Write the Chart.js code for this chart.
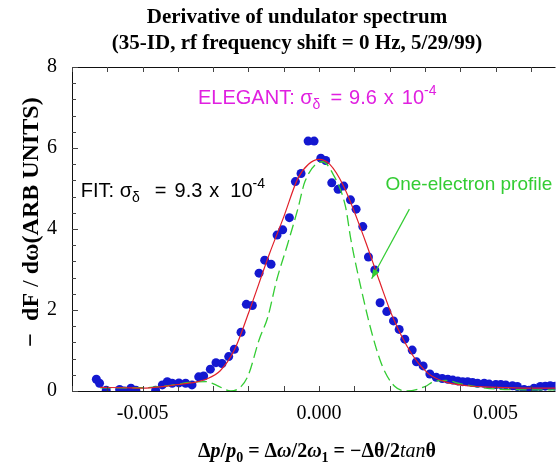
<!DOCTYPE html>
<html>
<head>
<meta charset="utf-8">
<script src="https://cdn.jsdelivr.net/npm/chart.js@4/dist/chart.umd.min.js"></script>
<style>
  html, body { margin: 0; padding: 0; background: #fff; overflow: hidden; }
</style>
</head>
<body>
<canvas id="chart" width="560" height="463"></canvas>
<script>
// measured points (blue)
const dataX = [-0.00631, -0.00622, -0.00603, -0.00565, -0.00551, -0.00533, -0.00519, -0.00463, -0.00444, -0.00430,
  -0.00416, -0.00397, -0.00378, -0.00360, -0.00341, -0.00327, -0.00308, -0.00292, -0.00275, -0.00256,
  -0.00240, -0.00221, -0.00206, -0.00189, -0.00170, -0.00154, -0.00136, -0.00119, -0.00103, -0.00084,
  -0.00067, -0.00051, -0.00031, -0.00014, 0.00005, 0.00019, 0.00036, 0.00054, 0.00070, 0.00089,
  0.00105, 0.00124, 0.00140, 0.00158, 0.00173, 0.00192, 0.00211, 0.00227, 0.00243, 0.00264,
  0.00276, 0.00295, 0.00314, 0.00332, 0.00349, 0.00365, 0.00379, 0.00393, 0.00407, 0.00421,
  0.00435, 0.00449, 0.00468, 0.00482, 0.00501, 0.00515, 0.00529, 0.00548, 0.00562, 0.00581,
  0.00595, 0.00609, 0.00627, 0.00641, 0.00655, 0.00669];
const dataY = [0.29, 0.19, 0.02, 0.04, 0.00, 0.07, 0.02, 0.02, 0.15, 0.23,
  0.19, 0.20, 0.19, 0.15, 0.35, 0.37, 0.54, 0.70, 0.68, 0.85,
  1.03, 1.45, 2.14, 2.11, 2.91, 3.23, 3.13, 3.85, 3.98, 4.28,
  5.17, 5.37, 6.17, 6.17, 5.75, 5.69, 5.14, 4.98, 5.06, 4.72,
  4.49, 4.06, 3.31, 2.99, 2.18, 1.96, 1.73, 1.52, 1.28, 1.01,
  0.72, 0.62, 0.42, 0.34, 0.31, 0.29, 0.27, 0.25, 0.23, 0.23,
  0.21, 0.19, 0.19, 0.17, 0.16, 0.16, 0.15, 0.13, 0.11, 0.04,
  0.02, 0.07, 0.11, 0.12, 0.13, 0.12];

// fit curve (red)
const fitX = [-0.0062, -0.0055, -0.0050, -0.0045, -0.0040, -0.0035, -0.0032, -0.0028, -0.0024, -0.0020,
  -0.0014, -0.0010, -0.0006, -0.0003, 0.0000, 0.0003, 0.0007, 0.0013, 0.0017, 0.0021,
  0.0026, 0.0031, 0.0036, 0.0042, 0.0050, 0.0060, 0.0067];
const fitY = [0.09, 0.08, 0.07, 0.10, 0.16, 0.22, 0.29, 0.50, 1.01, 1.92,
  3.40, 4.30, 5.25, 5.60, 5.72, 5.60, 5.05, 3.73, 2.74, 1.80,
  0.95, 0.43, 0.22, 0.13, 0.09, 0.07, 0.07];

// one-electron profile (green dashed)
const oneX = [-0.0062, -0.0050, -0.0042, -0.0036, -0.0032, -0.0029, -0.0025, -0.0022, -0.0020, -0.0017,
  -0.00145, -0.0012, -0.0009, -0.0006, -0.0004, 0.0001, 0.0004, 0.00075, 0.0009, 0.0012,
  0.0015, 0.0018, 0.00215, 0.0025, 0.0030, 0.0033, 0.0036, 0.0040, 0.0045, 0.0050,
  0.0060, 0.0067];
const oneY = [0.08, 0.08, 0.14, 0.22, 0.23, 0.14, 0.00, 0.12, 0.40, 1.26,
  1.83, 2.74, 3.60, 4.50, 5.17, 5.66, 5.35, 4.55, 3.75, 2.50,
  1.42, 0.60, 0.11, 0.00, 0.11, 0.25, 0.26, 0.18, 0.10, 0.05,
  0.03, 0.03];

const xTickValues = [-0.005, 0, 0.005];
const xTickLabels = ['-0.005', '0.000', '0.005'];
const yTickValues = [0, 2, 4, 6, 8];
const yTickLabels = ['0', '2', '4', '6', '8'];

const toPts = (xs, ys) => xs.map((v, i) => ({ x: v, y: ys[i] }));

const SERIF = '"Liberation Serif", "Times New Roman", serif';
const SANS = '"Liberation Sans", Arial, sans-serif';

// text made of runs; r.g = extra gap in px before the run
function runsWidth(ctx, runs) {
  let w = 0;
  for (const r of runs) { ctx.font = r.f; w += (r.g || 0) + ctx.measureText(r.t).width; }
  return w;
}
function drawRuns(ctx, x, y, runs, color, baseline) {
  ctx.fillStyle = color;
  ctx.textAlign = 'left';
  ctx.textBaseline = baseline || 'alphabetic';
  for (const r of runs) {
    ctx.font = r.f;
    x += r.g || 0;
    ctx.fillText(r.t, x, y + (r.dy || 0));
    x += ctx.measureText(r.t).width;
  }
}

const framePlugin = {
  id: 'frame',
  afterDatasetsDraw(chart) {
    const { ctx, chartArea: a, scales: { x, y } } = chart;
    ctx.save();

    // box: left, bottom, top (right edge falls outside the picture)
    ctx.strokeStyle = '#111';
    ctx.lineWidth = 1;
    ctx.beginPath();
    ctx.moveTo(a.right, a.top + 0.5);
    ctx.lineTo(a.left + 0.5, a.top + 0.5);
    ctx.lineTo(a.left + 0.5, a.bottom + 0.5);
    ctx.lineTo(a.right, a.bottom + 0.5);
    ctx.stroke();

    // inward ticks
    ctx.strokeStyle = '#444';
    ctx.beginPath();
    for (let v = -0.007; v <= 0.0067; v += 0.001) {
      const px = Math.round(x.getPixelForValue(v)) + 0.5;
      ctx.moveTo(px, a.bottom); ctx.lineTo(px, a.bottom - 5);
      ctx.moveTo(px, a.top); ctx.lineTo(px, a.top + 5);
    }
    for (let i = 0; i <= 20; i++) {
      const py = Math.round(y.getPixelForValue(i * 0.4)) + 0.5;
      const len = i % 5 === 0 ? 6 : 4;
      ctx.moveTo(a.left, py); ctx.lineTo(a.left + len, py);
    }
    ctx.stroke();

    // tick labels
    ctx.fillStyle = '#000';
    ctx.font = '20px ' + SERIF;
    ctx.textAlign = 'center';
    ctx.textBaseline = 'middle';
    xTickValues.forEach((v, i) => ctx.fillText(xTickLabels[i], x.getPixelForValue(v), 414));
    ctx.textAlign = 'right';
    yTickValues.forEach((v, i) => ctx.fillText(yTickLabels[i], 57, y.getPixelForValue(v)));

    // title
    ctx.textAlign = 'center';
    ctx.font = 'bold 21px ' + SERIF;
    ctx.fillText('Derivative of undulator spectrum', 297, 18);
    ctx.fillText('(35-ID, rf frequency shift = 0 Hz, 5/29/99)', 297, 44);

    // y axis title
    ctx.save();
    ctx.translate(32, 222);
    ctx.rotate(-Math.PI / 2);
    const YB = 'bold 24px ' + SERIF, YR = '24px ' + SERIF;
    const yRuns = [
      { t: '\u2212  dF ', f: YB }, { t: '/', f: YR }, { t: ' d\u03C9(ARB UNITS)', f: YB }
    ];
    drawRuns(ctx, -runsWidth(ctx, yRuns) / 2, 0, yRuns, '#000', 'middle');
    ctx.restore();

    // x axis title
    const B = 'bold 20px ' + SERIF, BI = 'italic bold 20px ' + SERIF, I = 'italic 20px ' + SERIF,
      S = 'bold 14px ' + SERIF;
    const xRuns = [
      { t: '\u0394', f: B }, { t: 'p', f: BI }, { t: '/', f: B }, { t: 'p', f: BI }, { t: '0', f: S, dy: 5 },
      { t: ' = \u0394', f: B }, { t: '\u03C9', f: BI }, { t: '/2', f: B }, { t: '\u03C9', f: BI }, { t: '1', f: S, dy: 5 },
      { t: ' = \u2212\u0394\u03B8/2', f: B }, { t: 'tan', f: I }, { t: '\u03B8', f: B }
    ];
    drawRuns(ctx, 317 - runsWidth(ctx, xRuns) / 2, 457, xRuns, '#000');

    // annotations
    const F = '20px ' + SANS, FS = '14px ' + SANS;
    drawRuns(ctx, x.getPixelForValue(-0.00343), y.getPixelForValue(7.09), [
      { t: 'ELEGANT: \u03C3', f: F }, { t: '\u03B4', f: FS, dy: 5 },
      { t: '=', f: F, g: 10 }, { t: '9.6', f: F, g: 7 }, { t: 'x', f: F, g: 7 }, { t: '10', f: F, g: 8 },
      { t: '-4', f: FS, dy: -9 }
    ], '#e020e0');
    drawRuns(ctx, x.getPixelForValue(-0.00675), y.getPixelForValue(4.79), [
      { t: 'FIT: \u03C3', f: F }, { t: '\u03B4', f: FS, dy: 5 },
      { t: '=', f: F, g: 15 }, { t: '9.3', f: F, g: 8 }, { t: 'x', f: F, g: 7 }, { t: '10', f: F, g: 11 },
      { t: '-4', f: FS, dy: -9 }
    ], '#000');
    drawRuns(ctx, x.getPixelForValue(0.00188), y.getPixelForValue(4.96), [
      { t: 'One-electron profile', f: '19px ' + SANS }
    ], '#33cc33');

    // arrow
    const x0 = x.getPixelForValue(0.00256), y0 = y.getPixelForValue(4.49);
    const x1 = x.getPixelForValue(0.00149), y1 = y.getPixelForValue(2.77);
    const ang = Math.atan2(y1 - y0, x1 - x0);
    ctx.strokeStyle = '#33cc33';
    ctx.fillStyle = '#33cc33';
    ctx.lineWidth = 1.2;
    ctx.beginPath(); ctx.moveTo(x0, y0); ctx.lineTo(x1, y1); ctx.stroke();
    ctx.beginPath();
    ctx.moveTo(x1, y1);
    ctx.lineTo(x1 - 10 * Math.cos(ang - 0.35), y1 - 10 * Math.sin(ang - 0.35));
    ctx.lineTo(x1 - 10 * Math.cos(ang + 0.35), y1 - 10 * Math.sin(ang + 0.35));
    ctx.closePath(); ctx.fill();

    ctx.restore();
  }
};

new Chart(document.getElementById('chart'), {
  type: 'scatter',
  data: {
    datasets: [
      {
        label: 'FIT',
        data: toPts(fitX, fitY),
        showLine: true,
        borderColor: '#e0202a',
        borderWidth: 1.2,
        pointRadius: 0,
        cubicInterpolationMode: 'monotone',
        order: 1
      },
      {
        label: 'One-electron profile',
        data: toPts(oneX, oneY),
        showLine: true,
        borderColor: '#33cc33',
        borderWidth: 1.3,
        borderDash: [11, 5],
        pointRadius: 0,
        cubicInterpolationMode: 'monotone',
        order: 2
      },
      {
        label: 'Data',
        data: toPts(dataX, dataY),
        backgroundColor: '#1418d0',
        borderWidth: 0,
        pointRadius: 4.5,
        order: 3
      }
    ]
  },
  options: {
    responsive: false,
    animation: false,
    layout: { padding: { left: 72, top: 67, right: 1, bottom: 72 } },
    plugins: { legend: { display: false }, tooltip: { enabled: false }, title: { display: false } },
    scales: {
      x: { type: 'linear', min: -0.007, max: 0.0067, display: false },
      y: { type: 'linear', min: 0, max: 8, display: false }
    }
  },
  plugins: [framePlugin]
});
</script>
</body>
</html>
